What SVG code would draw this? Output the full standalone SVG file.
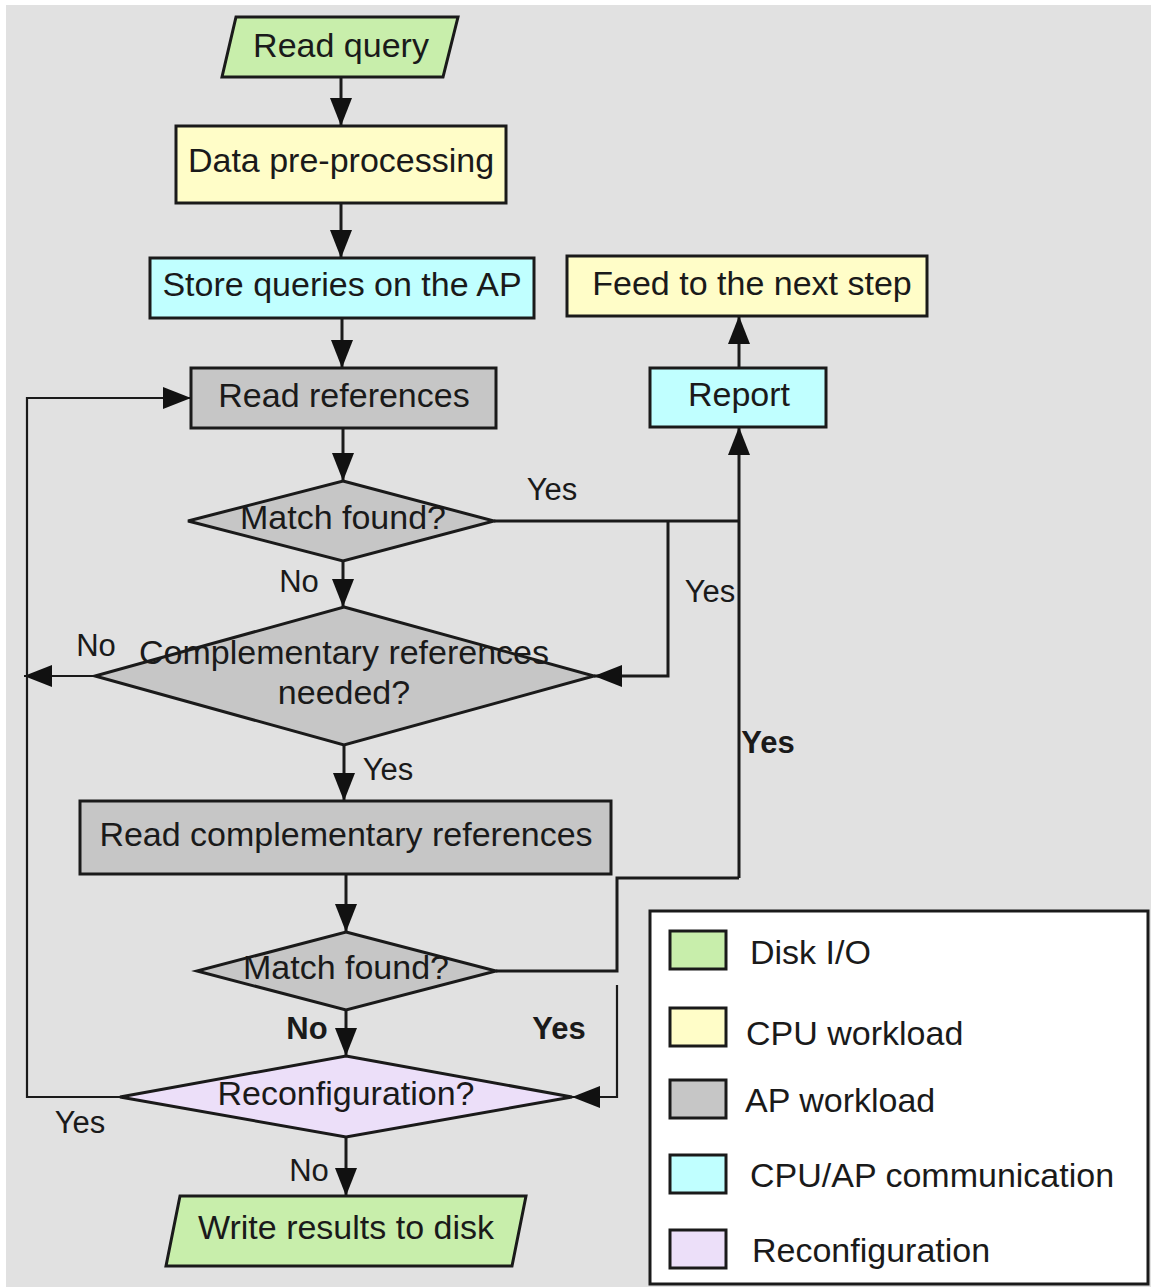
<svg xmlns="http://www.w3.org/2000/svg" width="1151" height="1287" viewBox="0 0 1151 1287">
  <defs>
    <style>
      text { font-family: "Liberation Sans", Arial, sans-serif; fill: #1a1a1a; }
      .node { stroke: #1a1a1a; stroke-width: 3; stroke-linejoin: miter; }
      .lbl { font-size: 34px; text-anchor: middle; }
      .edge { font-size: 31px; text-anchor: middle; }
      .bold { font-weight: bold; }
      .leg { font-size: 34px; }
      .wire { fill: none; stroke: #1a1a1a; stroke-width: 3; }
      .thin { fill: none; stroke: #1a1a1a; stroke-width: 2.2; }
      .disk { fill: #c8eeab; }
      .cpu { fill: #fffdc8; }
      .ap { fill: #c6c6c6; }
      .comm { fill: #c0ffff; }
      .reconf { fill: #ecdff9; }
    </style>
    <marker id="arrow" markerUnits="userSpaceOnUse" markerWidth="28" markerHeight="22" refX="28" refY="11" orient="auto">
      <path d="M0,0 L28,11 L0,22 z" fill="#111"/>
    </marker>
  </defs>

  <!-- canvas -->
  <rect x="0" y="0" width="1151" height="1287" fill="#ffffff"/>
  <rect x="6" y="5" width="1145" height="1282" fill="#e1e1e1"/>

  <!-- connectors -->
  <g id="connectors">
    <line class="wire" x1="341" y1="77" x2="341" y2="126" marker-end="url(#arrow)"/>
    <line class="wire" x1="341" y1="203" x2="341" y2="258" marker-end="url(#arrow)"/>
    <line class="wire" x1="342" y1="318" x2="342" y2="368" marker-end="url(#arrow)"/>
    <line class="wire" x1="343" y1="428" x2="343" y2="481" marker-end="url(#arrow)"/>
    <line class="wire" x1="343" y1="561" x2="343" y2="607" marker-end="url(#arrow)"/>
    <!-- first match: yes branch -->
    <line class="wire" x1="494" y1="521" x2="739" y2="521"/>
    <polyline class="wire" points="668,521 668,676 594,676" marker-end="url(#arrow)"/>
    <!-- report feed -->
    <line class="wire" x1="739" y1="878" x2="739" y2="427" marker-end="url(#arrow)"/>
    <line class="wire" x1="739" y1="368" x2="739" y2="316" marker-end="url(#arrow)"/>
    <!-- complementary needed: no -->
    <line class="thin" x1="95" y1="676" x2="24" y2="676" marker-end="url(#arrow)"/>
    <!-- loop back to read references -->
    <polyline class="thin" points="120,1097 27,1097 27,398 191,398" marker-end="url(#arrow)"/>
    <line class="wire" x1="344" y1="745" x2="344" y2="801" marker-end="url(#arrow)"/>
    <line class="wire" x1="346" y1="874" x2="346" y2="932" marker-end="url(#arrow)"/>
    <!-- second match: yes branches -->
    <polyline class="wire" points="496,971 617,971 617,878 739,878"/>
    <polyline class="thin" points="617,985 617,1097 572,1097" marker-end="url(#arrow)"/>
    <line class="wire" x1="346" y1="1010" x2="346" y2="1056" marker-end="url(#arrow)"/>
    <line class="wire" x1="346" y1="1137" x2="346" y2="1196" marker-end="url(#arrow)"/>

    <text class="edge" x="552" y="500">Yes</text>
    <text class="edge" x="710" y="602">Yes</text>
    <text class="edge" x="299" y="592">No</text>
    <text class="edge" x="96" y="656">No</text>
    <text class="edge" x="388" y="780">Yes</text>
    <text class="edge bold" x="768" y="753">Yes</text>
    <text class="edge bold" x="307" y="1039">No</text>
    <text class="edge bold" x="559" y="1039">Yes</text>
    <text class="edge" x="80" y="1133">Yes</text>
    <text class="edge" x="309" y="1181">No</text>
  </g>

  <!-- nodes -->
  <g id="read-query">
    <polygon class="node disk" points="236,17 458,17 443,77 222,77"/>
    <text class="lbl" x="341" y="57">Read query</text>
  </g>
  <g id="data-preprocessing">
    <rect class="node cpu" x="176" y="126" width="330" height="77"/>
    <text class="lbl" x="341" y="172">Data pre-processing</text>
  </g>
  <g id="store-queries">
    <rect class="node comm" x="150" y="258" width="384" height="60"/>
    <text class="lbl" x="342" y="296">Store queries on the AP</text>
  </g>
  <g id="feed-next">
    <rect class="node cpu" x="567" y="256" width="360" height="60"/>
    <text class="lbl" x="752" y="295">Feed to the next step</text>
  </g>
  <g id="read-references">
    <rect class="node ap" x="191" y="368" width="305" height="60"/>
    <text class="lbl" x="344" y="407">Read references</text>
  </g>
  <g id="report">
    <rect class="node comm" x="650" y="368" width="176" height="59"/>
    <text class="lbl" x="739" y="406">Report</text>
  </g>
  <g id="match-found-1">
    <polygon class="node ap" points="343,481 494,521 343,561 188,521"/>
    <text class="lbl" x="343" y="529">Match found?</text>
  </g>
  <g id="complementary-needed">
    <polygon class="node ap" points="344,607 594,676 344,745 95,676"/>
    <text class="lbl" x="344" y="664">Complementary references</text>
    <text class="lbl" x="344" y="704">needed?</text>
  </g>
  <g id="read-complementary">
    <rect class="node ap" x="80" y="801" width="531" height="73"/>
    <text class="lbl" x="346" y="846">Read complementary references</text>
  </g>
  <g id="match-found-2">
    <polygon class="node ap" points="346,932 496,971 346,1010 197,971"/>
    <text class="lbl" x="346" y="979">Match found?</text>
  </g>
  <g id="reconfiguration">
    <polygon class="node reconf" points="346,1056 572,1097 346,1137 120,1097"/>
    <text class="lbl" x="346" y="1105">Reconfiguration?</text>
  </g>
  <g id="write-results">
    <polygon class="node disk" points="180,1196 526,1196 512,1266 166,1266"/>
    <text class="lbl" x="346" y="1239">Write results to disk</text>
  </g>

  <!-- legend -->
  <g id="legend">
    <rect x="650" y="911" width="498" height="373" fill="#ffffff" stroke="#1a1a1a" stroke-width="3"/>
    <rect class="node disk" x="670" y="931" width="56" height="38"/>
    <text class="leg" x="750" y="964">Disk I/O</text>
    <rect class="node cpu" x="670" y="1008" width="56" height="38"/>
    <text class="leg" x="746" y="1045">CPU workload</text>
    <rect class="node ap" x="670" y="1080" width="56" height="38"/>
    <text class="leg" x="745" y="1112">AP workload</text>
    <rect class="node comm" x="670" y="1155" width="56" height="38"/>
    <text class="leg" x="750" y="1187">CPU/AP communication</text>
    <rect class="node reconf" x="670" y="1230" width="56" height="38"/>
    <text class="leg" x="752" y="1262">Reconfiguration</text>
  </g>
</svg>
